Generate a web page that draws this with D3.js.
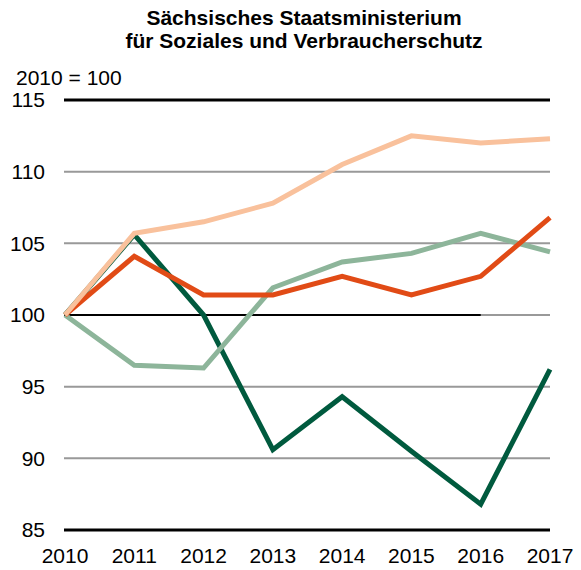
<!DOCTYPE html>
<html>
<head>
<meta charset="utf-8">
<script src="https://cdn.jsdelivr.net/npm/d3@7"></script>
<style>
    body { margin: 0; background: #fff; }
    text { font-family: "Liberation Sans", Arial, sans-serif; fill: #000; }
</style>
</head>
<body>
<div id="chart"></div>
<script>
// values (index, 2010 = 100)
const years = [2010, 2011, 2012, 2013, 2014, 2015, 2016, 2017];
const yTicks = [85, 90, 95, 100, 105, 110, 115];
const seriesDarkGreen = [100, 105.6, 100.0, 90.6, 94.3, 90.5, 86.8, 96.2];
const seriesLightGreen = [100, 96.5, 96.3, 101.9, 103.7, 104.3, 105.7, 104.4];
const seriesOrange = [100, 104.1, 101.4, 101.4, 102.7, 101.4, 102.7, 106.8];
const seriesPeach = [100, 105.7, 106.5, 107.8, 110.5, 112.5, 112.0, 112.3];

const titleLines = ["Sächsisches Staatsministerium", "für Soziales und Verbraucherschutz"];

const width = 581, height = 570;
let margin = {top: 100, right: 31, bottom: 40, left: 65};

let x = d3.scalePoint()
    .domain(years)
    .range([margin.left, width - margin.right]);

let y = d3.scaleLinear()
    .domain([85, 115])
    .range([height - margin.bottom, margin.top]);

let svg = d3.select("#chart")
    .append("svg")
    .attr("width", width)
    .attr("height", height);

// title
svg.append("g")
    .selectAll("text")
    .data(titleLines)
    .enter().append("text")
    .attr("x", 304)
    .attr("y", (d, i) => 25 + i * 23)
    .attr("text-anchor", "middle")
    .style("font-size", "21px")
    .style("font-weight", "bold")
    .text(d => d);

svg.append("text")
    .attr("x", 16)
    .attr("y", 85)
    .style("font-size", "21px")
    .text("2010 = 100");

// gridlines
let gx0 = x(years[0]) - 1, gx1 = x(years[years.length - 1]);
svg.append("g")
    .selectAll("line")
    .data(yTicks)
    .enter().append("line")
    .attr("x1", gx0)
    .attr("x2", gx1)
    .attr("y1", d => y(d))
    .attr("y2", d => y(d))
    .style("stroke", d => (d === 85 || d === 115) ? "#000" : "#999")
    .style("stroke-width", d => (d === 85 || d === 115) ? 3 : 2);

// the 100 line is black up to 2016
svg.append("line")
    .attr("x1", gx0)
    .attr("x2", x(2016))
    .attr("y1", y(100))
    .attr("y2", y(100))
    .style("stroke", "#000")
    .style("stroke-width", 2);

// y axis labels
svg.append("g")
    .selectAll("text")
    .data(yTicks)
    .enter().append("text")
    .attr("x", 45)
    .attr("y", d => y(d))
    .attr("dy", "0.35em")
    .attr("text-anchor", "end")
    .style("font-size", "21px")
    .text(d => d);

// x axis labels
svg.append("g")
    .selectAll("text")
    .data(years)
    .enter().append("text")
    .attr("x", d => x(d))
    .attr("y", 563)
    .attr("text-anchor", "middle")
    .style("font-size", "21px")
    .text(d => d);

let line = d3.line()
    .x((d, i) => x(years[i]))
    .y(d => y(d));

const series = [
    {values: seriesDarkGreen, color: "#005a3e"},
    {values: seriesLightGreen, color: "#8db59a"},
    {values: seriesOrange, color: "#e14b16"},
    {values: seriesPeach, color: "#f9c19c"}
];

svg.append("g")
    .selectAll("path")
    .data(series)
    .enter().append("path")
    .attr("d", d => line(d.values))
    .style("fill", "none")
    .style("stroke", d => d.color)
    .style("stroke-width", 5);
</script>
</body>
</html>
